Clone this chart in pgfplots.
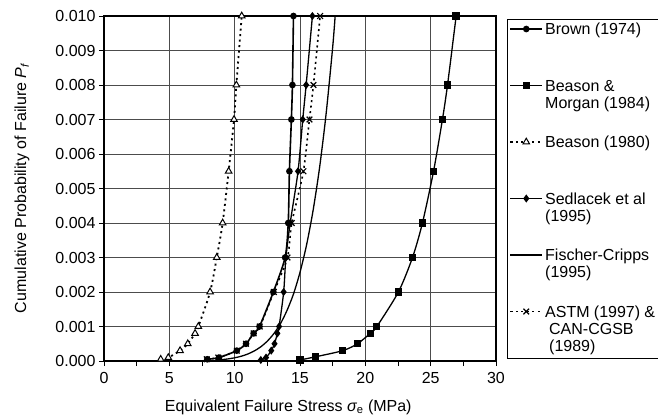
\documentclass[border=0pt]{standalone}
\usepackage{pgfplots}
\pgfplotsset{compat=1.18}
\usepackage{fontspec}
\setmainfont{Liberation Sans}
\begin{document}
\begin{tikzpicture}[font=\fontsize{16}{17}\selectfont]
\path[use as bounding box] (-104pt,-57pt) rectangle (554pt,361pt);
\begin{axis}[
  scale only axis, width=392pt, height=345pt,
  xmin=0, xmax=30, ymin=0, ymax=0.010,
  xtick={0,5,10,15,20,25,30}, xticklabels={0,5,10,15,20,25,30},
  minor xtick={2.5,7.5,12.5,17.5,22.5,27.5},
  ytick={0,0.001,0.002,0.003,0.004,0.005,0.006,0.007,0.008,0.009,0.010},
  yticklabels={0.000,0.001,0.002,0.003,0.004,0.005,0.006,0.007,0.008,0.009,0.010},
  scaled y ticks=false,
  tick align=outside, tick pos=left,
  major tick length=5pt, minor tick length=5pt,
  tick style={black, line width=0.9pt},
  xticklabel style={yshift=-3pt},
  xmajorgrids, ymajorgrids,
  major grid style={black!70, line width=0.6pt},
  axis line style={line width=1.3pt},
  clip=false,
  xlabel={Equivalent Failure Stress {\itshape σ}\textsubscript{e} (MPa)},
  ylabel={Cumulative Probability of Failure {\itshape P\textsubscript{f}}},
  xlabel style={at={(axis description cs:0.47,-0.133)}, anchor=center},
  ylabel style={at={(axis description cs:-0.209,0.5)}, anchor=center},
  legend image code/.code={
    \draw[mark repeat=2,mark phase=2,#1]
      plot coordinates {(0pt,5.5pt) (16pt,5.5pt) (32pt,5.5pt)};
  },
  legend style={at={(axis description cs:1.028,0.991)}, anchor=north west,
    draw=black, line width=0.8pt, inner sep=2pt, row sep=4.5pt, column sep=1pt,
    cells={anchor=base west},
    nodes={inner sep=1pt, text height=12pt, text depth=38pt}},
]
% Brown (1974)
\addplot[black, line width=1.6pt, smooth, tension=0.45, mark=*, mark size=2.5pt]
coordinates {(7.9,0.00005) (8.8,0.0001) (10.16,0.0003) (10.87,0.0005) (11.45,0.0008)
 (11.9,0.001) (12.96,0.002) (13.86,0.003) (14.1,0.004) (14.19,0.0055) (14.34,0.007)
 (14.42,0.008) (14.5,0.010)};
\addlegendentry{\parbox[t]{110pt}{Brown (1974)}}
% Beason & Morgan (1984)
\addplot[black, line width=1.3pt, smooth, tension=0.45, mark=square*, mark size=3pt]
coordinates {(15.01,0.00003) (16.16,0.00012) (18.27,0.0003) (19.4,0.0005) (20.37,0.0008)
 (20.88,0.001) (22.53,0.002) (23.61,0.003) (24.37,0.004) (25.22,0.0055) (25.9,0.007)
 (26.29,0.008) (26.95,0.010)};
\addlegendentry{\parbox[t]{110pt}{Beason \&\\Morgan (1984)}}
% Beason (1980)
\addplot[black, line width=1.8pt, dash pattern=on 2pt off 3.5pt, smooth, tension=0.45,
  mark=triangle*, mark size=3.8pt, mark options={solid, fill=white, line width=1pt}]
coordinates {(4.34,0.00005) (4.92,0.0001) (5.82,0.0003) (6.41,0.0005) (6.97,0.0008)
 (7.22,0.001) (8.12,0.002) (8.63,0.003) (9.08,0.004) (9.54,0.0055) (9.95,0.007)
 (10.13,0.008) (10.54,0.010)};
\addlegendentry{\parbox[t]{110pt}{Beason (1980)}}
% Sedlacek et al (1995)
\addplot[black, line width=1.3pt, smooth, tension=0.45, mark=diamond*, mark size=3pt]
coordinates {(12.0,0.00003) (12.4,0.0001) (12.8,0.0003) (13.05,0.0005) (13.27,0.0008)
 (13.4,0.001) (13.75,0.002) (13.92,0.003) (14.25,0.004) (14.85,0.0055) (15.21,0.007)
 (15.47,0.008) (15.95,0.010)};
\addlegendentry{\parbox[t]{110pt}{Sedlacek et al\\(1995)}}
% Fischer-Cripps (1995)
\addplot[black, line width=1.3pt, smooth, tension=0.45, mark=none]
coordinates {(8.5,0.000024) (9,0.000039) (9.5,0.000061) (10,0.000093) (10.5,0.000138)
 (11,0.000202) (11.5,0.000291) (12,0.000412) (12.5,0.000576) (13,0.000794)
 (13.5,0.00108) (14,0.00146) (14.5,0.00194) (15,0.00257) (15.5,0.00336) (16,0.00436)
 (16.5,0.00561) (17,0.00717) (17.5,0.00909) (17.69,0.0100)};
\addlegendentry{\parbox[t]{110pt}{Fischer-Cripps\\(1995)}}
% ASTM (1997) & CAN-CGSB (1989)
\addplot[black, line width=1.6pt, dash pattern=on 2pt off 3.5pt, smooth, tension=0.45,
  mark=x, mark size=4pt, mark options={solid, line width=1.2pt}]
coordinates {(7.86,0.00005) (8.75,0.0001) (10.16,0.0003) (10.87,0.0005) (11.45,0.0008)
 (11.92,0.001) (13.0,0.002) (14.04,0.003) (14.37,0.004) (15.26,0.0055) (15.72,0.007)
 (16.03,0.008) (16.54,0.010)};
\addlegendentry{\parbox[t]{110pt}{ASTM (1997) \&\\\hspace*{4pt}CAN-CGSB\\\hspace*{4pt}(1989)}}
\end{axis}
\end{tikzpicture}
\end{document}
